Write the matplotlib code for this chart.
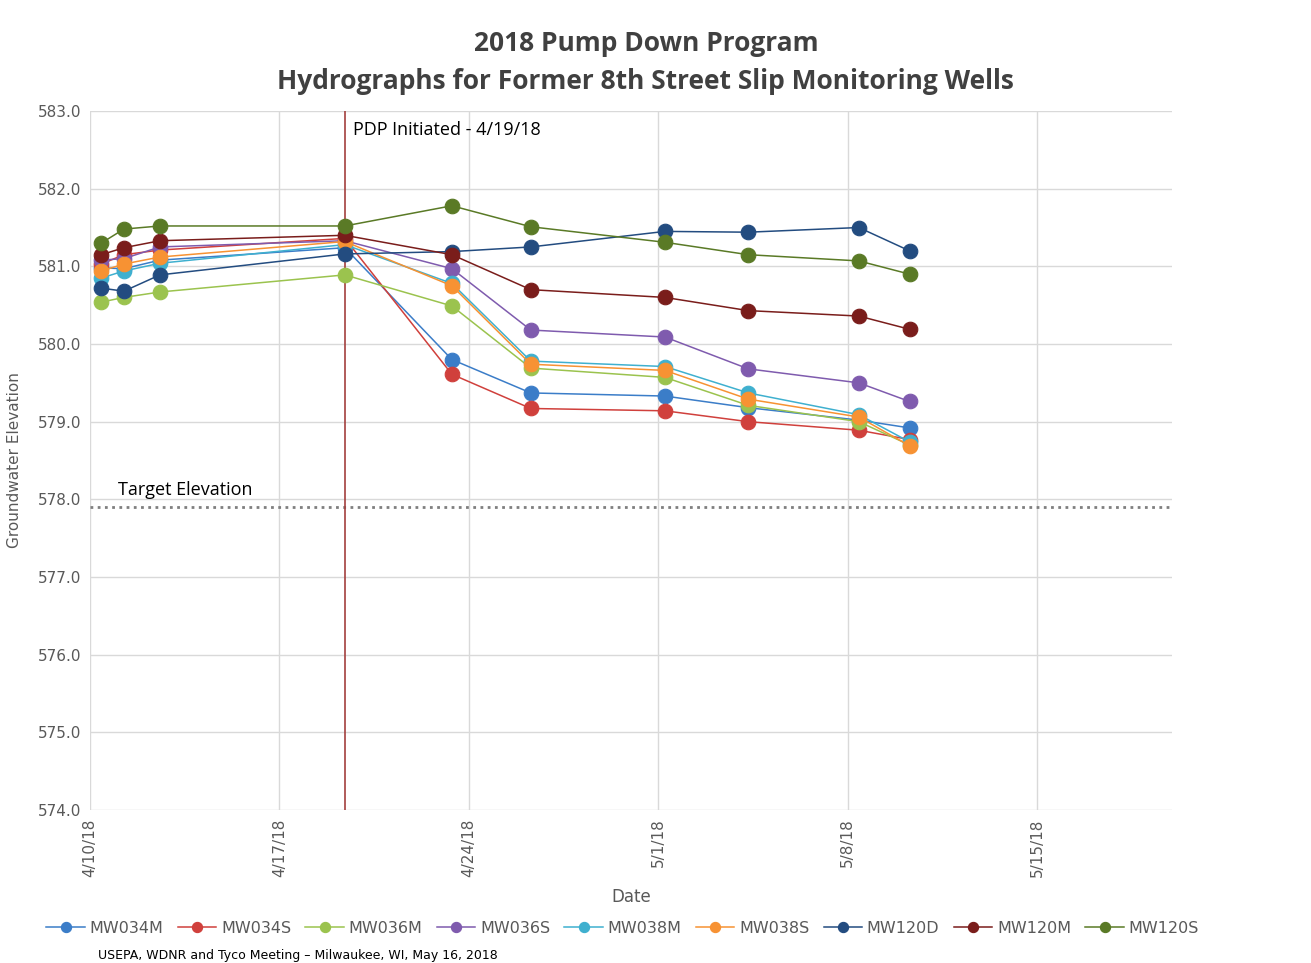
import matplotlib
matplotlib.use("Agg")
import matplotlib.pyplot as plt
import matplotlib.dates as mdates
from datetime import datetime

dates = ["2018-04-10 10:00", "2018-04-11 06:00", "2018-04-12 14:00", "2018-04-19 10:00",
         "2018-04-23 09:00", "2018-04-26 07:00", "2018-05-01 06:00", "2018-05-04 08:00",
         "2018-05-08 10:00", "2018-05-10 07:00"]

wells = ["MW034M", "MW034S", "MW036M", "MW036S", "MW038M", "MW038S", "MW120D", "MW120M", "MW120S"]

mw034m = [580.98, 580.97, 581.08, 581.24, 579.80, 579.37, 579.33, 579.18, 579.02, 578.92]
mw034s = [581.03, 581.15, 581.21, 581.36, 579.61, 579.17, 579.14, 579.00, 578.89, 578.77]
mw036m = [580.54, 580.60, 580.67, 580.89, 580.49, 579.69, 579.57, 579.21, 579.00, 578.70]
mw036s = [581.08, 581.10, 581.25, 581.33, 580.97, 580.18, 580.09, 579.68, 579.50, 579.26]
mw038m = [580.85, 580.94, 581.04, 581.28, 580.78, 579.78, 579.71, 579.37, 579.09, 578.74]
mw038s = [580.94, 581.03, 581.12, 581.32, 580.75, 579.74, 579.66, 579.29, 579.06, 578.69]
mw120d = [580.72, 580.68, 580.89, 581.16, 581.19, 581.25, 581.45, 581.44, 581.50, 581.20]
mw120m = [581.15, 581.24, 581.33, 581.40, 581.15, 580.70, 580.60, 580.43, 580.36, 580.19]
mw120s = [581.30, 581.48, 581.52, 581.52, 581.78, 581.51, 581.31, 581.15, 581.07, 580.90]

series = [mw034m, mw034s, mw036m, mw036s, mw038m, mw038s, mw120d, mw120m, mw120s]
colors = ["#3B7DC8", "#D0403C", "#9BC34E", "#7F5BAE", "#3FB0CF", "#F79233", "#234C80", "#7A1D1B", "#5A7A26"]

target_elev = 577.9
pdp_date = "2018-04-19 10:00"
tick_dates = ["2018-04-10", "2018-04-17", "2018-04-24", "2018-05-01", "2018-05-08", "2018-05-15"]
tick_labels = ["4/10/18", "4/17/18", "4/24/18", "5/1/18", "5/8/18", "5/15/18"]
y_ticks = [574.0, 575.0, 576.0, 577.0, 578.0, 579.0, 580.0, 581.0, 582.0, 583.0]

def d(s):
    return datetime.fromisoformat(s)

xs = [d(s) for s in dates]

fig = plt.figure(figsize=(13.11, 9.63), dpi=100)
ax = fig.add_axes([0.0687, 0.1589, 0.8254, 0.7258])

for spine in ax.spines.values():
    spine.set_visible(False)

ax.set_xlim(d("2018-04-10"), d("2018-05-20"))
ax.set_ylim(574.0, 583.0)
ax.set_yticks(y_ticks)
ax.set_yticklabels([f"{v:.1f}" for v in y_ticks], color="#595959", fontsize=11)
ax.set_xticks([d(s) for s in tick_dates])
ax.set_xticklabels(tick_labels, rotation=90, color="#595959", fontsize=11)
ax.tick_params(length=0, pad=6)
ax.grid(True, color="#d9d9d9", lw=1)
ax.set_axisbelow(True)

# target elevation
ax.axhline(target_elev, color="#7f7f7f", lw=2, ls=(0, (1, 1.6)), zorder=2)
ax.text(d("2018-04-11 01:00"), target_elev + 0.1, "Target Elevation", fontsize=13,
        family="Open Sans", color="black", va="bottom")

# PDP line
ax.axvline(d(pdp_date), color="#A3403E", lw=1.2, zorder=2)
ax.text(d("2018-04-19 17:00"), 582.75, "PDP Initiated - 4/19/18", fontsize=13,
        family="Open Sans", color="black", va="center")

for name, vals, c in zip(wells, series, colors):
    ax.plot(xs, vals, color=c, lw=1.1, marker="o", markersize=10.5,
            markerfacecolor=c, markeredgecolor=c, markeredgewidth=0.8,
            label=name, zorder=3, alpha=1)

ax.set_xlabel("Date", fontsize=12, color="#595959", labelpad=8)
ax.set_ylabel("Groundwater Elevation", fontsize=11, color="#595959", labelpad=12)

fig.text(0.493, 0.955, "2018 Pump Down Program", ha="center", va="center",
         fontsize=19, fontweight="bold", family="Open Sans", color="#404040")
fig.text(0.492, 0.915, "Hydrographs for Former 8th Street Slip Monitoring Wells", ha="center",
         va="center", fontsize=19, fontweight="bold", family="Open Sans", color="#404040")

leg = fig.legend(loc="center", bbox_to_anchor=(0.475, 0.036), ncol=9, frameon=False,
                 fontsize=11.5, handlelength=2.4, columnspacing=0.9, handletextpad=0.3,
                 labelcolor="#595959", markerscale=0.7)

fig.text(0.075, 0.001, "USEPA, WDNR and Tyco Meeting \u2013 Milwaukee, WI, May 16, 2018",
         fontsize=9, color="black", va="bottom")

fig.savefig("out.png", dpi=100, facecolor="white")
